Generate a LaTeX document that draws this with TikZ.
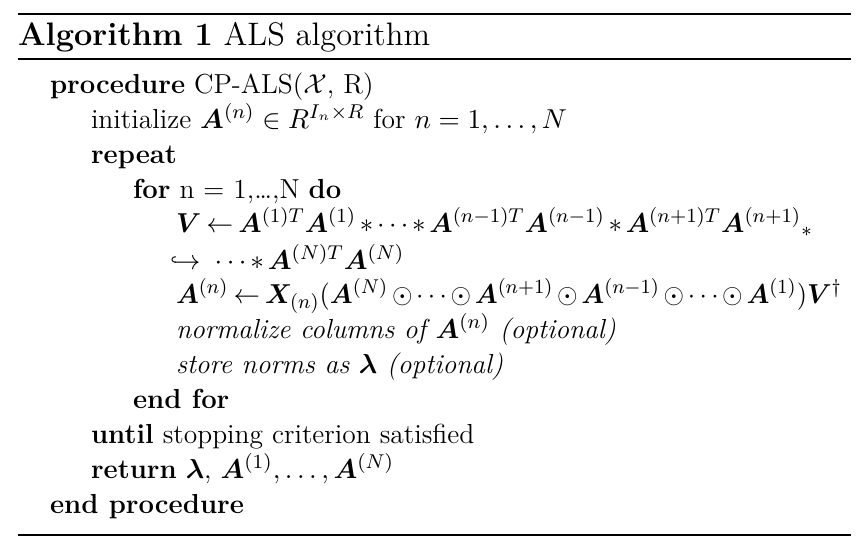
\documentclass[tikz,border=0pt]{standalone}
\usepackage{amsmath,amssymb}
\usepackage{bm}
\usepackage{graphicx}
% tighter binary operators for the long update lines
\newcommand{\tightmath}[1]{$\medmuskip=2.5mu\thickmuskip=3.5mu #1$}
\begin{document}
\begin{tikzpicture}[x=0.4pt, y=-0.4pt, line cap=butt,
	font=\fontsize{11}{13}\selectfont,
	algline/.style={anchor=base west, inner sep=0pt, outer sep=0pt},
	algtitle/.style={algline, font=\fontsize{13}{15}\selectfont}]
		\def\xl{18} \def\xr{851}
		\def\xa{50} \def\xb{91} \def\xc{133} \def\xd{176}
		\useasboundingbox (0,0) rectangle (864,540);
		%\draw[color=gray!50,dashed] (0,0) grid[step=50] (864,540);
		\coordinate (toprule west) at (\xl,14);
		\coordinate (toprule east) at (\xr,14);
		\coordinate (midrule west) at (\xl,59);
		\coordinate (midrule east) at (\xr,59);
		\coordinate (botrule west) at (\xl,535);
		\coordinate (botrule east) at (\xr,535);
		\draw[line width=1.1pt] (toprule west)--(toprule east);
		\draw[line width=0.45pt] (midrule west)--(midrule east);
		\draw[line width=0.45pt] (botrule west)--(botrule east);
		\node[algtitle] (title) at (\xl,45) {\textbf{Algorithm 1} ALS algorithm};
		\node[algline] (proc) at (\xa,93) {\textbf{procedure} CP-ALS($\mathcal{X}$, R)};
		\node[algline] (init) at (\xb,128) {initialize $\bm{A}^{(n)} \in R^{I_n\times R}$ for $n=1,\ldots,N$};
		\node[algline] (rep) at (\xb,163) {\textbf{repeat}};
		\node[algline] (for) at (\xc,198) {\textbf{for} n = 1,\ldots,N \textbf{do}};
		\node[algline] (gram) at (\xd,232) {\resizebox{254.8pt}{\height}{\tightmath{\bm{V} \leftarrow \bm{A}^{(1)T}\bm{A}^{(1)} * \cdots * \bm{A}^{(n-1)T}\bm{A}^{(n-1)} * \bm{A}^{(n+1)T}\bm{A}^{(n+1)}{}_{*}}}};
		\node[algline] (cont) at (170,269) {\tightmath{\hookrightarrow\ \cdots * \bm{A}^{(N)T}\bm{A}^{(N)}}};
		\node[algline] (upd) at (\xd,303) {\resizebox{266.4pt}{\height}{\tightmath{\bm{A}^{(n)} \leftarrow \bm{X}_{(n)}(\bm{A}^{(N)} \odot \cdots \odot \bm{A}^{(n+1)} \odot \bm{A}^{(n-1)} \odot \cdots \odot \bm{A}^{(1)})\bm{V}^{\dagger}}}};
		\node[algline] (norm) at (\xd,338) {\textit{normalize columns of $\bm{A}^{(n)}$ (optional)}};
		\node[algline] (store) at (\xd,373) {\textit{store norms as $\bm{\lambda}$ (optional)}};
		\node[algline] (endfor) at (\xc,408) {\textbf{end for}};
		\node[algline] (until) at (\xb,443) {\textbf{until} stopping criterion satisfied};
		\node[algline] (ret) at (\xb,478) {\textbf{return} $\bm{\lambda}$, $\bm{A}^{(1)}, \ldots, \bm{A}^{(N)}$};
		\node[algline] (endproc) at (\xa,513) {\textbf{end procedure}};
	\end{tikzpicture}
\end{document}
